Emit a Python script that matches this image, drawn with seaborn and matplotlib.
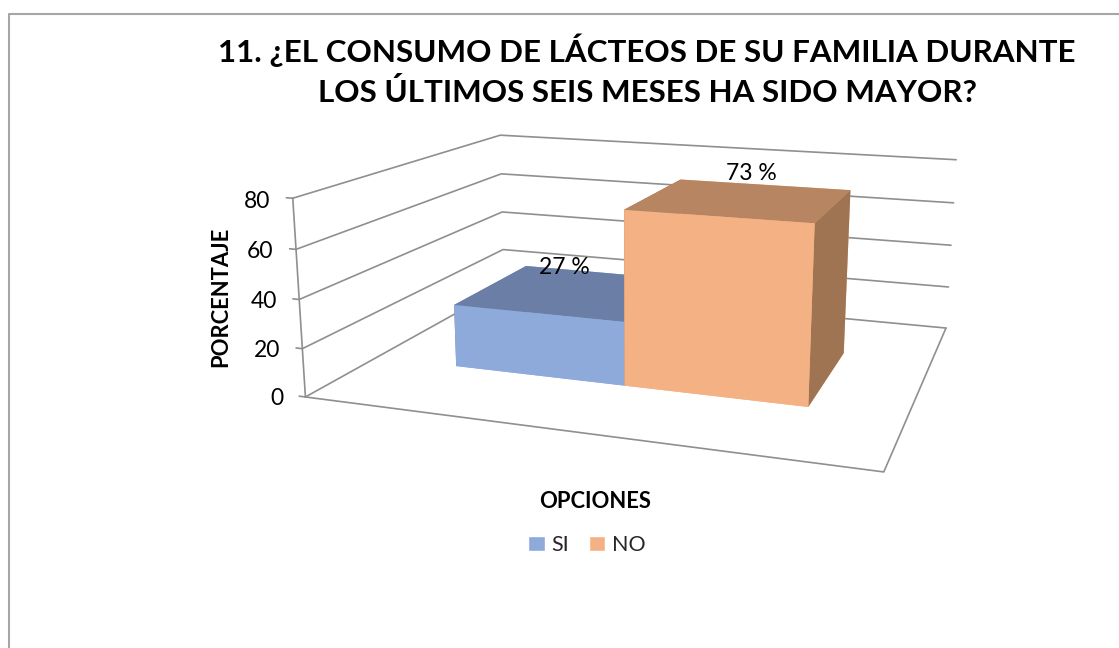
import matplotlib
matplotlib.use('Agg')
import matplotlib.pyplot as plt
from matplotlib.lines import Line2D
from matplotlib.patches import Patch
from mpl_toolkits.mplot3d import proj3d
import seaborn as sns

categories = ['SI', 'NO']
values = [27, 73]
value_labels = ['27 %', '73 %']
ticks = [0, 20, 40, 60, 80]
title = '11. ¿EL CONSUMO DE LÁCTEOS DE SU FAMILIA DURANTE\nLOS ÚLTIMOS SEIS MESES HA SIDO MAYOR?'

# bottom, top, front, back, left, right
SI_FACES = ['#8eaadb', '#6b7fa6', '#8eaadb', '#8eaadb', '#6b7fa6', '#6b7fa6']
NO_FACES = ['#f4b183', '#b78562', '#f4b183', '#f4b183', '#9e7453', '#9e7453']
GRID = '#8f8f8f'

sns.set_theme(style='white')
plt.rcParams['font.family'] = ['Lato', 'DejaVu Sans']

fig = plt.figure(figsize=(11.19, 6.48), dpi=100, facecolor='white')
ax = fig.add_subplot(projection='3d', computed_zorder=False)
ax.set_xlim(0, 2)
ax.set_ylim(0, 1)
ax.set_zlim(0, 80)
ax.set_xticks([])
ax.set_yticks([])
ax.set_zticks([])

# camera fitted to the perspective of the picture
ax.view_init(13.9125, -71.2589, -0.2480)
ax.set_proj_type('persp', focal_length=0.3471)
ax.set_box_aspect((2.8580, 2.2948, 1))
ax.set_position([298.24 / 1119, 22.48 / 648, 692.38 / 1119, 692.38 / 648])
ax.set_axis_off()


def label3d(x, y, z, s, **kw):
    px, py, _ = proj3d.proj_transform(x, y, z, ax.get_proj())
    ax.text2D(px, py, s, transform=ax.transData, va='center', color='black', **kw)


# walls and floor
for z in ticks:
    ax.plot([0, 0, 2], [0, 1, 1], [z, z, z], color=GRID, lw=1.2, zorder=1, clip_on=False)
    ax.plot([-0.025, 0], [0, 0], [z, z], color=GRID, lw=1.2, zorder=1, clip_on=False)
    label3d(-0.09, 0, z - 1.8, str(z), ha='right', fontsize=16.5, zorder=5)
ax.plot([0, 2, 2], [0, 0, 1], [0, 0, 0], color=GRID, lw=1.2, zorder=1, clip_on=False)
ax.plot([0, 0], [0, 0], [0, 80], color=GRID, lw=1.2, zorder=1, clip_on=False)

# bars touch each other, each takes a third of the floor width
bar_w = 2 / 3
bar_x = [1 / 3, 1]
bars = ax.bar3d(bar_x, [0.3, 0.3], [0, 0], [bar_w, bar_w], [0.4, 0.4], values,
                color=SI_FACES + NO_FACES, shade=False, edgecolor='none', linewidth=0, zorder=2)
bars.set_clip_on(False)

label_dx = [-0.16, -0.05]
label_dz = [1, 4.5]
for x, v, lab, dx, dz in zip(bar_x, values, value_labels, label_dx, label_dz):
    label3d(x + bar_w / 2 + dx, 0.7, v + dz, lab, ha='center', fontsize=16.5, zorder=6)

fig.text(647 / 1119, 1 - 70 / 648, title, ha='center', va='center', fontsize=22.6,
         fontweight='bold', color='black', linespacing=1.44)
fig.text(595 / 1119, 1 - 501 / 648, 'OPCIONES', ha='center', va='center', fontsize=15.8,
         fontweight='bold', color='black')
fig.text(221 / 1119, 1 - 297 / 648, 'PORCENTAJE', ha='center', va='center', rotation=90,
         fontsize=15.8, fontweight='bold', color='black')

handles = [Patch(facecolor=SI_FACES[0], label=categories[0]),
           Patch(facecolor=NO_FACES[0], label=categories[1])]
fig.legend(handles=handles, loc='center', bbox_to_anchor=(587 / 1119, 1 - 545 / 648), ncol=2,
           frameon=False, fontsize=15.5, handlelength=0.75, handleheight=0.75,
           handletextpad=0.3, columnspacing=0.95)

# chart border, cut by the edge of the picture at right and bottom
fig.add_artist(Line2D([9.3 / 1119, 9.3 / 1119, 1], [0, 1 - 13.7 / 648, 1 - 13.7 / 648],
                      color='#a6a6a6', lw=1.5))

fig.savefig('out.png', dpi=100)
